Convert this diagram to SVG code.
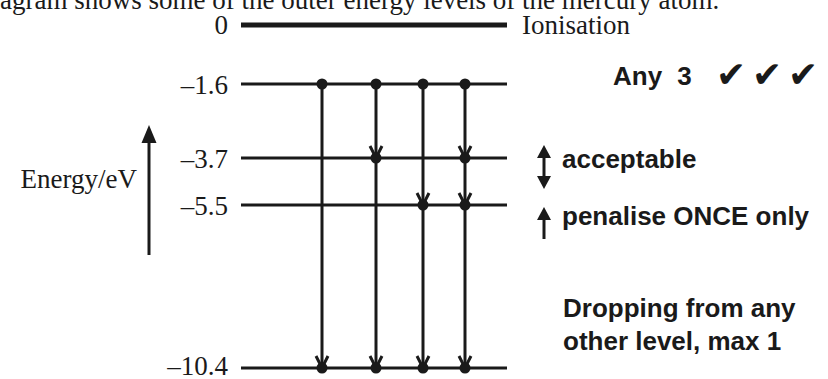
<svg xmlns="http://www.w3.org/2000/svg" width="828" height="379" viewBox="0 0 828 379">
<defs>
<style>
.serif{font-family:"Liberation Serif","Times New Roman",serif;font-size:27px;fill:#1a1a1a}
.lab{text-anchor:end}
.bold{font-family:"Liberation Sans",Arial,sans-serif;font-weight:bold;font-size:26px;fill:#1a1a1a}
.lvl{stroke:#1a1a1a;stroke-width:3}
.tr{stroke:#1a1a1a;stroke-width:3;fill:none;marker-end:url(#vee)}
.dot{fill:#1a1a1a}
.ar{stroke:#1a1a1a;stroke-width:3}
.head{fill:#1a1a1a}
</style>
<marker id="vee" markerUnits="userSpaceOnUse" orient="auto" refX="0" refY="0" overflow="visible">
<path d="M-12,-6 L0,0 L-12,6" fill="none" stroke="#1a1a1a" stroke-width="3"/>
</marker>
</defs>
<rect width="828" height="379" fill="#ffffff"/>
<text class="serif" x="0" y="9" font-size="28">agram shows some of the outer energy levels of the mercury atom.</text>

<g id="level-0">
<line x1="241" y1="25" x2="507" y2="25" stroke="#1a1a1a" stroke-width="5"/>
<text class="serif lab" x="228" y="34">0</text>
<text class="serif" x="522" y="34">Ionisation</text>
</g>
<g id="level-1.6">
<line class="lvl" x1="241" y1="84" x2="507" y2="84"/>
<text class="serif lab" x="228" y="94">–1.6</text>
</g>
<g id="level-3.7">
<line class="lvl" x1="241" y1="158" x2="507" y2="158"/>
<text class="serif lab" x="228" y="168">–3.7</text>
</g>
<g id="level-5.5">
<line class="lvl" x1="241" y1="205" x2="507" y2="205"/>
<text class="serif lab" x="228" y="215">–5.5</text>
</g>
<g id="level-10.4">
<line class="lvl" x1="241" y1="368" x2="507" y2="368"/>
<text class="serif lab" x="228" y="375">–10.4</text>
</g>

<g id="connectors">
<line class="tr" x1="322" y1="84" x2="322" y2="368"/>
<line class="tr" x1="376" y1="84" x2="376" y2="158"/>
<line class="tr" x1="376" y1="158" x2="376" y2="368"/>
<line class="tr" x1="423" y1="84" x2="423" y2="205"/>
<line class="tr" x1="423" y1="205" x2="423" y2="368"/>
<line class="tr" x1="465" y1="84" x2="465" y2="158"/>
<line class="tr" x1="465" y1="158" x2="465" y2="205"/>
<line class="tr" x1="465" y1="205" x2="465" y2="368"/>
</g>
<g id="dots">
<circle class="dot" cx="322" cy="84" r="5.5"/>
<circle class="dot" cx="376" cy="84" r="5.5"/>
<circle class="dot" cx="423" cy="84" r="5.5"/>
<circle class="dot" cx="465" cy="84" r="5.5"/>
<circle class="dot" cx="376" cy="158" r="5.5"/>
<circle class="dot" cx="465" cy="158" r="5.5"/>
<circle class="dot" cx="423" cy="205" r="5.5"/>
<circle class="dot" cx="465" cy="205" r="5.5"/>
<circle class="dot" cx="322" cy="368" r="5.5"/>
<circle class="dot" cx="376" cy="368" r="5.5"/>
<circle class="dot" cx="423" cy="368" r="5.5"/>
<circle class="dot" cx="465" cy="368" r="5.5"/>
</g>

<g id="energy-axis">
<line class="ar" x1="149" y1="141" x2="149" y2="255"/>
<polygon class="head" points="149,125 141.5,143 156.5,143"/>
<text class="serif" x="137" y="188" text-anchor="end">Energy/eV</text>
</g>

<g id="note-any3">
<text class="bold" x="613" y="85" word-spacing="8">Any 3</text>
<text font-family="DejaVu Sans,sans-serif" font-size="36" fill="#1a1a1a" x="716 752 788" y="87">✔✔✔</text>
</g>
<g id="note-acceptable">
<line class="ar" x1="544" y1="155" x2="544" y2="179"/>
<polygon class="head" points="544,145 537,158 551,158"/>
<polygon class="head" points="544,189 537,176 551,176"/>
<text class="bold" x="562" y="168">acceptable</text>
</g>
<g id="note-penalise">
<line class="ar" x1="544" y1="217" x2="544" y2="239"/>
<polygon class="head" points="544,207 537,220 551,220"/>
<text class="bold" x="562" y="225">penalise ONCE only</text>
</g>
<g id="note-dropping">
<text class="bold" x="563" y="317">Dropping from any</text>
<text class="bold" x="563" y="350">other level, max 1</text>
</g>
</svg>
